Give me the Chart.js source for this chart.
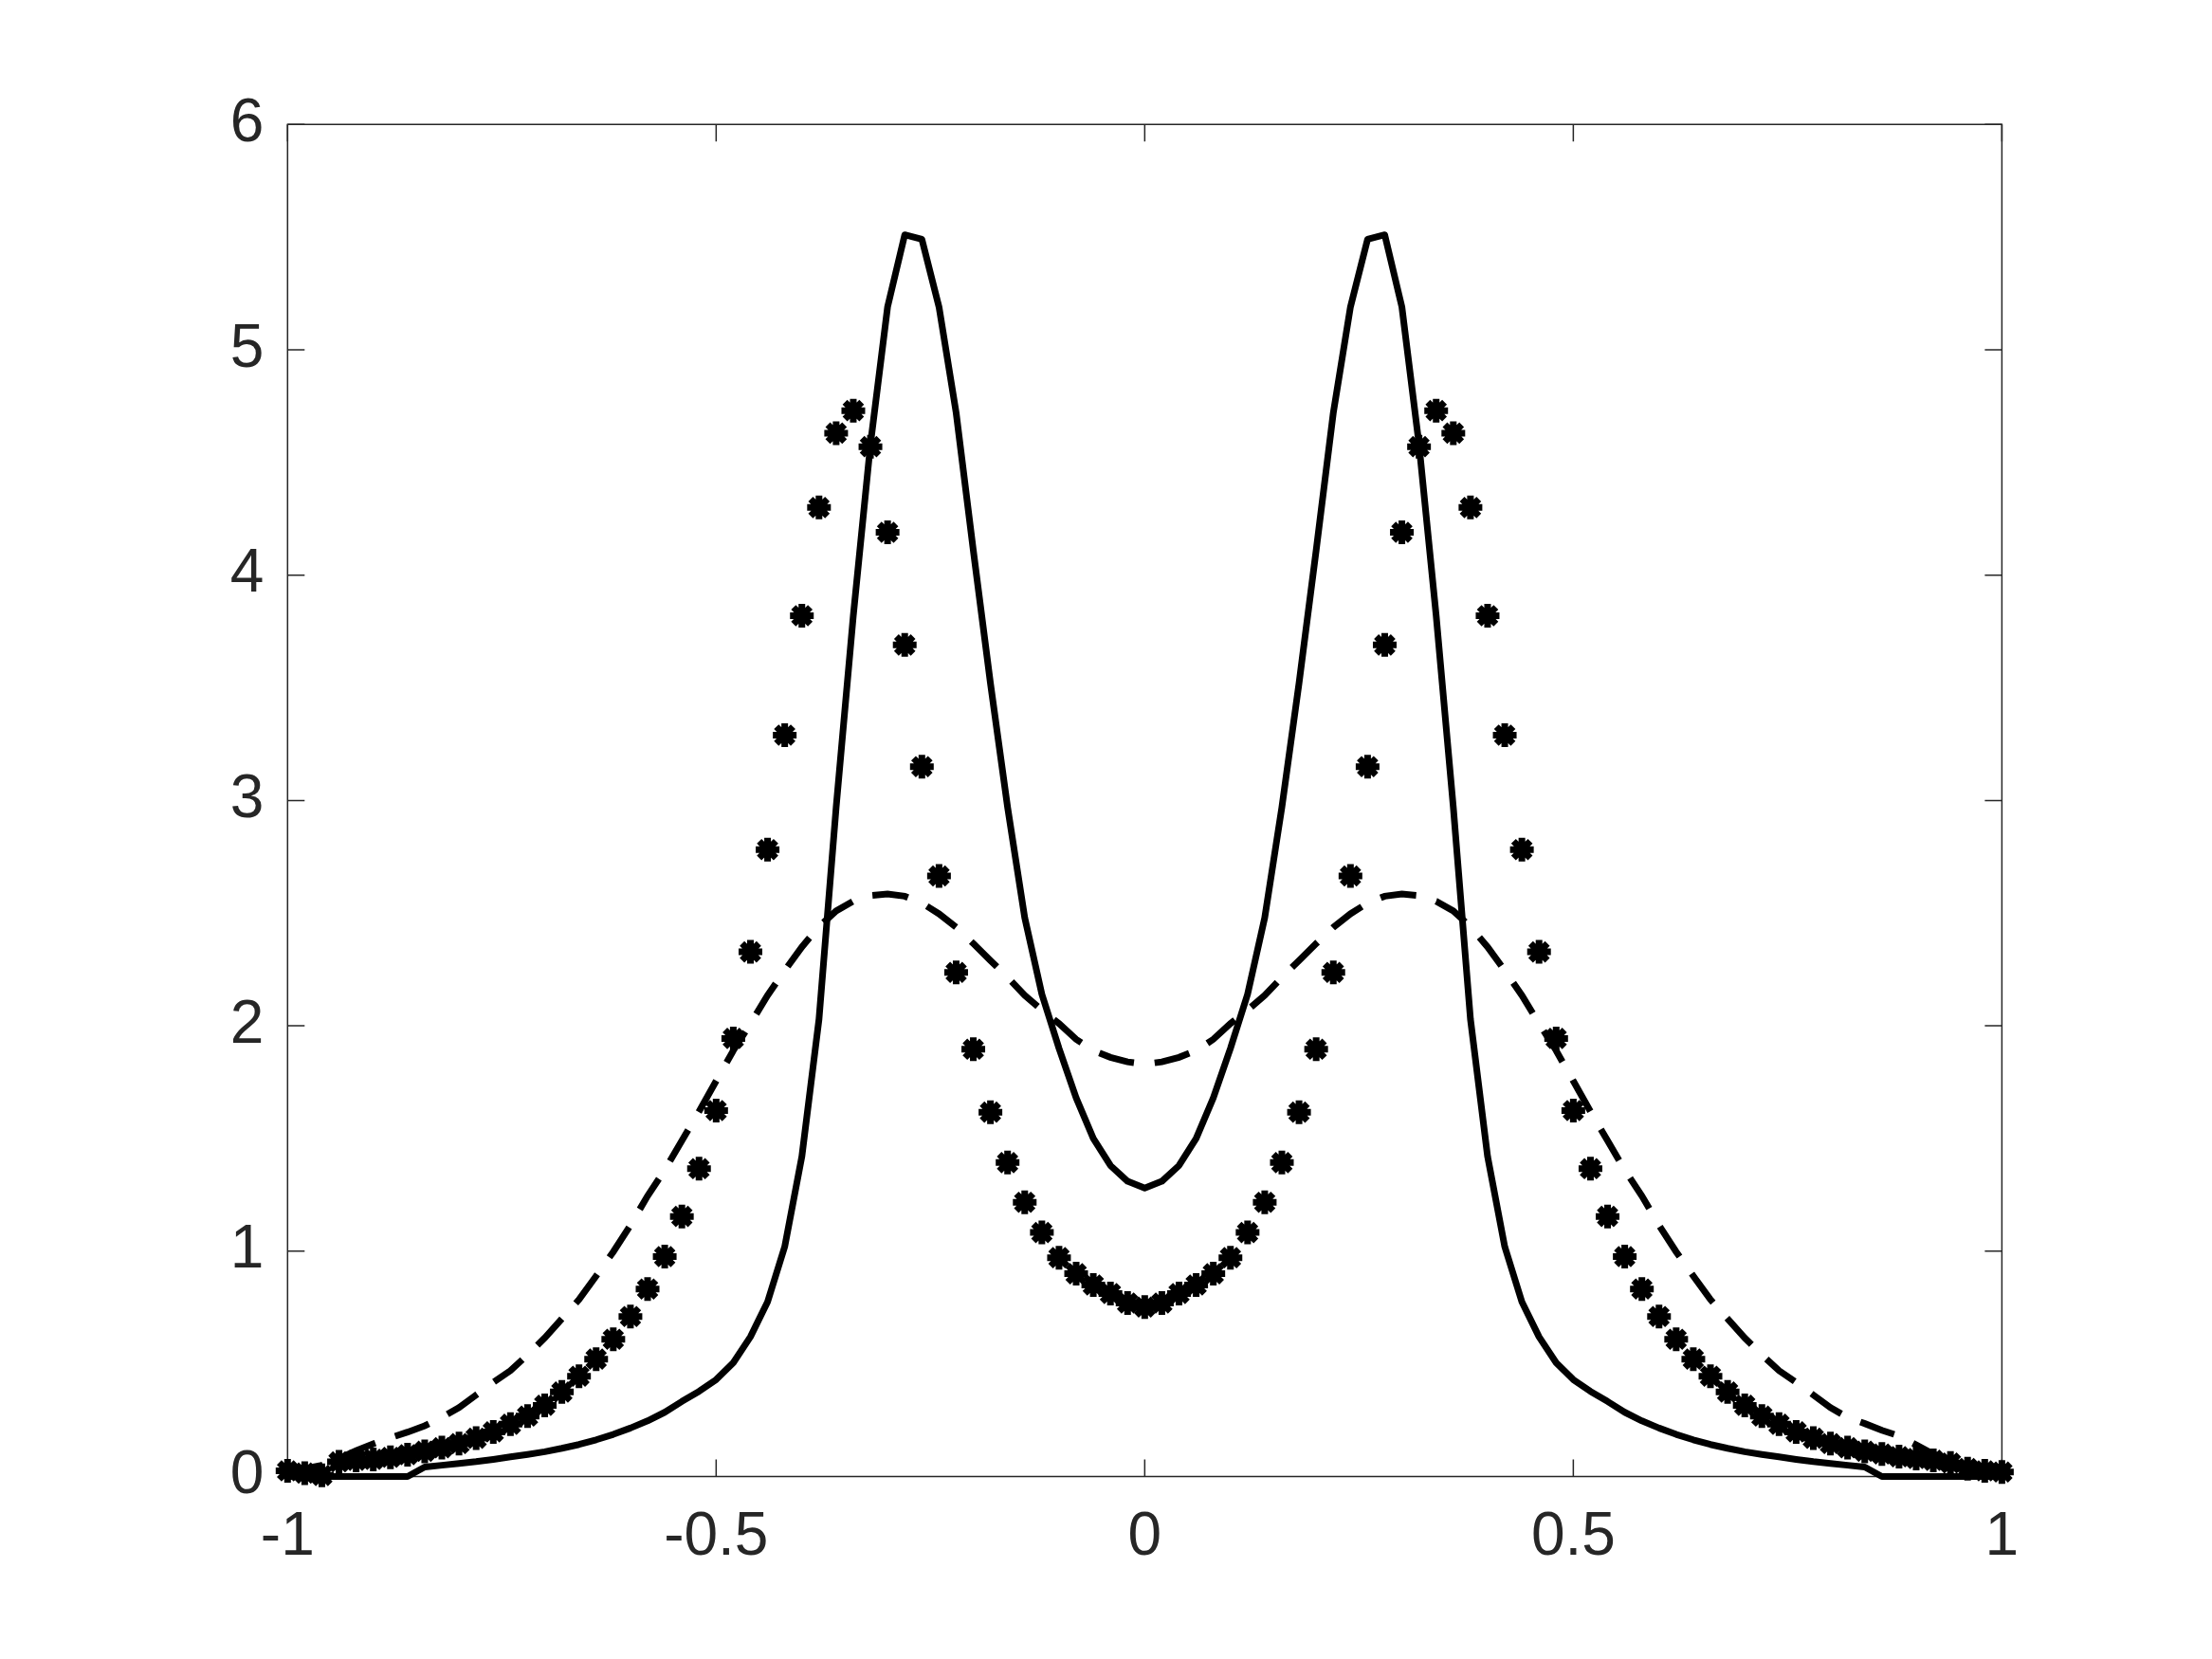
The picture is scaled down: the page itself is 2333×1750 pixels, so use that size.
<!DOCTYPE html>
<html>
<head>
<meta charset="utf-8">
<script src="https://cdn.jsdelivr.net/npm/chart.js@4.4.1/dist/chart.umd.min.js"></script>
<style>
  html, body { margin: 0; padding: 0; background: #ffffff; }
  #wrap { width: 2333px; height: 1750px; }
</style>
</head>
<body>
<div id="wrap"><canvas id="plot" width="2333" height="1750"></canvas></div>
<script>
// x grid, -1 to 1 step 0.02
var xGrid = [
  -1.00, -0.98, -0.96, -0.94, -0.92, -0.90, -0.88, -0.86, -0.84, -0.82,
  -0.80, -0.78, -0.76, -0.74, -0.72, -0.70, -0.68, -0.66, -0.64, -0.62,
  -0.60, -0.58, -0.56, -0.54, -0.52, -0.50, -0.48, -0.46, -0.44, -0.42,
  -0.40, -0.38, -0.36, -0.34, -0.32, -0.30, -0.28, -0.26, -0.24, -0.22,
  -0.20, -0.18, -0.16, -0.14, -0.12, -0.10, -0.08, -0.06, -0.04, -0.02,
   0.00,
   0.02,  0.04,  0.06,  0.08,  0.10,  0.12,  0.14,  0.16,  0.18,  0.20,
   0.22,  0.24,  0.26,  0.28,  0.30,  0.32,  0.34,  0.36,  0.38,  0.40,
   0.42,  0.44,  0.46,  0.48,  0.50,  0.52,  0.54,  0.56,  0.58,  0.60,
   0.62,  0.64,  0.66,  0.68,  0.70,  0.72,  0.74,  0.76,  0.78,  0.80,
   0.82,  0.84,  0.86,  0.88,  0.90,  0.92,  0.94,  0.96,  0.98,  1.00
];

// solid curve
var solidVals = [
  0, 0, 0, 0, 0, 0, 0, 0, 0.042, 0.05,
  0.058, 0.066, 0.076, 0.087, 0.098, 0.11, 0.125, 0.142, 0.163, 0.187,
  0.215, 0.247, 0.285, 0.333, 0.378, 0.43, 0.505, 0.62, 0.775, 1.02,
  1.42, 2.03, 2.97, 3.82, 4.58, 5.19, 5.51, 5.49, 5.19, 4.72,
  4.11, 3.52, 2.97, 2.48, 2.14, 1.9, 1.68, 1.5, 1.38, 1.31,
  1.28,
  1.31, 1.38, 1.5, 1.68, 1.9, 2.14, 2.48, 2.97, 3.52, 4.11,
  4.72, 5.19, 5.49, 5.51, 5.19, 4.58, 3.82, 2.97, 2.03, 1.42,
  1.02, 0.775, 0.62, 0.505, 0.43, 0.378, 0.333, 0.285, 0.247, 0.215,
  0.187, 0.163, 0.142, 0.125, 0.11, 0.098, 0.087, 0.076, 0.066, 0.058,
  0.05, 0.042, 0, 0, 0, 0, 0, 0, 0, 0
];

// star markers
var starVals = [
  0.025, 0.015, 0.005, 0.065, 0.072, 0.076, 0.085, 0.097, 0.112, 0.128,
  0.146, 0.17, 0.198, 0.232, 0.268, 0.316, 0.375, 0.445, 0.521, 0.609,
  0.71, 0.832, 0.976, 1.154, 1.366, 1.624, 1.944, 2.328, 2.782, 3.29,
  3.82, 4.30, 4.63, 4.73, 4.57, 4.19, 3.69, 3.15, 2.665, 2.237,
  1.896, 1.617, 1.393, 1.217, 1.083, 0.971, 0.90, 0.85, 0.812, 0.77,
  0.752,
  0.77, 0.812, 0.85, 0.90, 0.971, 1.083, 1.217, 1.393, 1.617, 1.896,
  2.237, 2.665, 3.15, 3.69, 4.19, 4.57, 4.73, 4.63, 4.30, 3.82,
  3.29, 2.782, 2.328, 1.944, 1.624, 1.366, 1.154, 0.976, 0.832, 0.71,
  0.609, 0.521, 0.445, 0.375, 0.316, 0.268, 0.232, 0.198, 0.17, 0.146,
  0.128, 0.112, 0.1, 0.088, 0.08, 0.072, 0.06, 0.035, 0.025, 0.02
];

// dashed curve
var dashVals = [
  0.02, 0.035, 0.05, 0.08, 0.115, 0.145, 0.172, 0.197, 0.225, 0.262,
  0.306, 0.362, 0.418, 0.47, 0.54, 0.615, 0.70, 0.785, 0.89, 0.997,
  1.115, 1.245, 1.36, 1.49, 1.62, 1.755, 1.89, 2.01, 2.135, 2.245,
  2.35, 2.44, 2.51, 2.553, 2.578, 2.585, 2.575, 2.545, 2.497, 2.437,
  2.365, 2.29, 2.215, 2.135, 2.07, 2.01, 1.94, 1.89, 1.86, 1.84,
  1.83,
  1.84, 1.86, 1.89, 1.94, 2.01, 2.07, 2.135, 2.215, 2.29, 2.365,
  2.437, 2.497, 2.545, 2.575, 2.585, 2.578, 2.553, 2.51, 2.44, 2.35,
  2.245, 2.135, 2.01, 1.89, 1.755, 1.62, 1.49, 1.36, 1.245, 1.115,
  0.997, 0.89, 0.785, 0.70, 0.615, 0.54, 0.47, 0.418, 0.362, 0.306,
  0.262, 0.235, 0.205, 0.18, 0.14, 0.1, 0.07, 0.05, 0.035, 0.02
];

var xTicks = [-1, -0.5, 0, 0.5, 1];
var yTicks = [0, 1, 2, 3, 4, 5, 6];

function pairs(ys) {
  var out = [];
  for (var i = 0; i < xGrid.length; i++) out.push({x: xGrid[i], y: ys[i]});
  return out;
}

var axisColor = '#262626';

// box round the axes with inward ticks on all four sides
var boxPlugin = {
  id: 'boxPlugin',
  beforeDatasetsDraw: function(chart) {
    var ctx = chart.ctx, a = chart.chartArea;
    var sx = chart.scales.x, sy = chart.scales.y;
    var len = 18;
    ctx.save();
    ctx.strokeStyle = axisColor;
    ctx.lineWidth = 1.5;
    ctx.strokeRect(a.left, a.top, a.right - a.left, a.bottom - a.top);
    ctx.beginPath();
    xTicks.forEach(function(v){
      var px = sx.getPixelForValue(v);
      ctx.moveTo(px, a.bottom); ctx.lineTo(px, a.bottom - len);
      ctx.moveTo(px, a.top); ctx.lineTo(px, a.top + len);
    });
    yTicks.forEach(function(v){
      var py = sy.getPixelForValue(v);
      ctx.moveTo(a.left, py); ctx.lineTo(a.left + len, py);
      ctx.moveTo(a.right, py); ctx.lineTo(a.right - len, py);
    });
    ctx.stroke();
    ctx.restore();
  }
};

var tickFont = {family: '"Liberation Sans", Arial, Helvetica, sans-serif', size: 64};

new Chart(document.getElementById('plot'), {
  type: 'scatter',
  data: {
    datasets: [
      {
        data: pairs(solidVals),
        showLine: true,
        borderColor: '#000000',
        borderWidth: 7,
        borderJoinStyle: 'round',
        pointRadius: 0,
        tension: 0,
        clip: false
      },
      {
        data: pairs(dashVals),
        showLine: true,
        borderColor: '#000000',
        borderWidth: 7,
        borderDash: [38, 22],
        borderCapStyle: 'butt',
        pointRadius: 0,
        tension: 0,
        clip: false
      },
      {
        data: pairs(starVals),
        showLine: false,
        pointStyle: 'star',
        pointRadius: 12.5,
        pointBorderWidth: 7,
        pointBorderColor: '#000000',
        pointBackgroundColor: '#000000',
        clip: false
      }
    ]
  },
  options: {
    responsive: false,
    animation: false,
    devicePixelRatio: 1,
    layout: { padding: { left: 0, right: 221.6, top: 131.25, bottom: 0 } },
    plugins: { legend: { display: false }, tooltip: { enabled: false } },
    scales: {
      x: {
        type: 'linear', min: -1, max: 1,
        border: { display: false },
        grid: { display: false, drawTicks: false },
        afterBuildTicks: function(scale){ scale.ticks = xTicks.map(function(v){ return {value: v}; }); },
        afterFit: function(scale){ scale.height = 192.5; },
        ticks: {
          color: axisColor, font: tickFont, padding: 26, maxRotation: 0,
          callback: function(v){ return String(v); }
        }
      },
      y: {
        type: 'linear', min: 0, max: 6,
        border: { display: false },
        grid: { display: false, drawTicks: false },
        afterBuildTicks: function(scale){ scale.ticks = yTicks.map(function(v){ return {value: v}; }); },
        afterFit: function(scale){ scale.width = 303.3; },
        ticks: {
          color: axisColor, font: tickFont, padding: 25,
          callback: function(v){ return String(v); }
        }
      }
    }
  },
  plugins: [boxPlugin]
});
</script>
</body>
</html>
